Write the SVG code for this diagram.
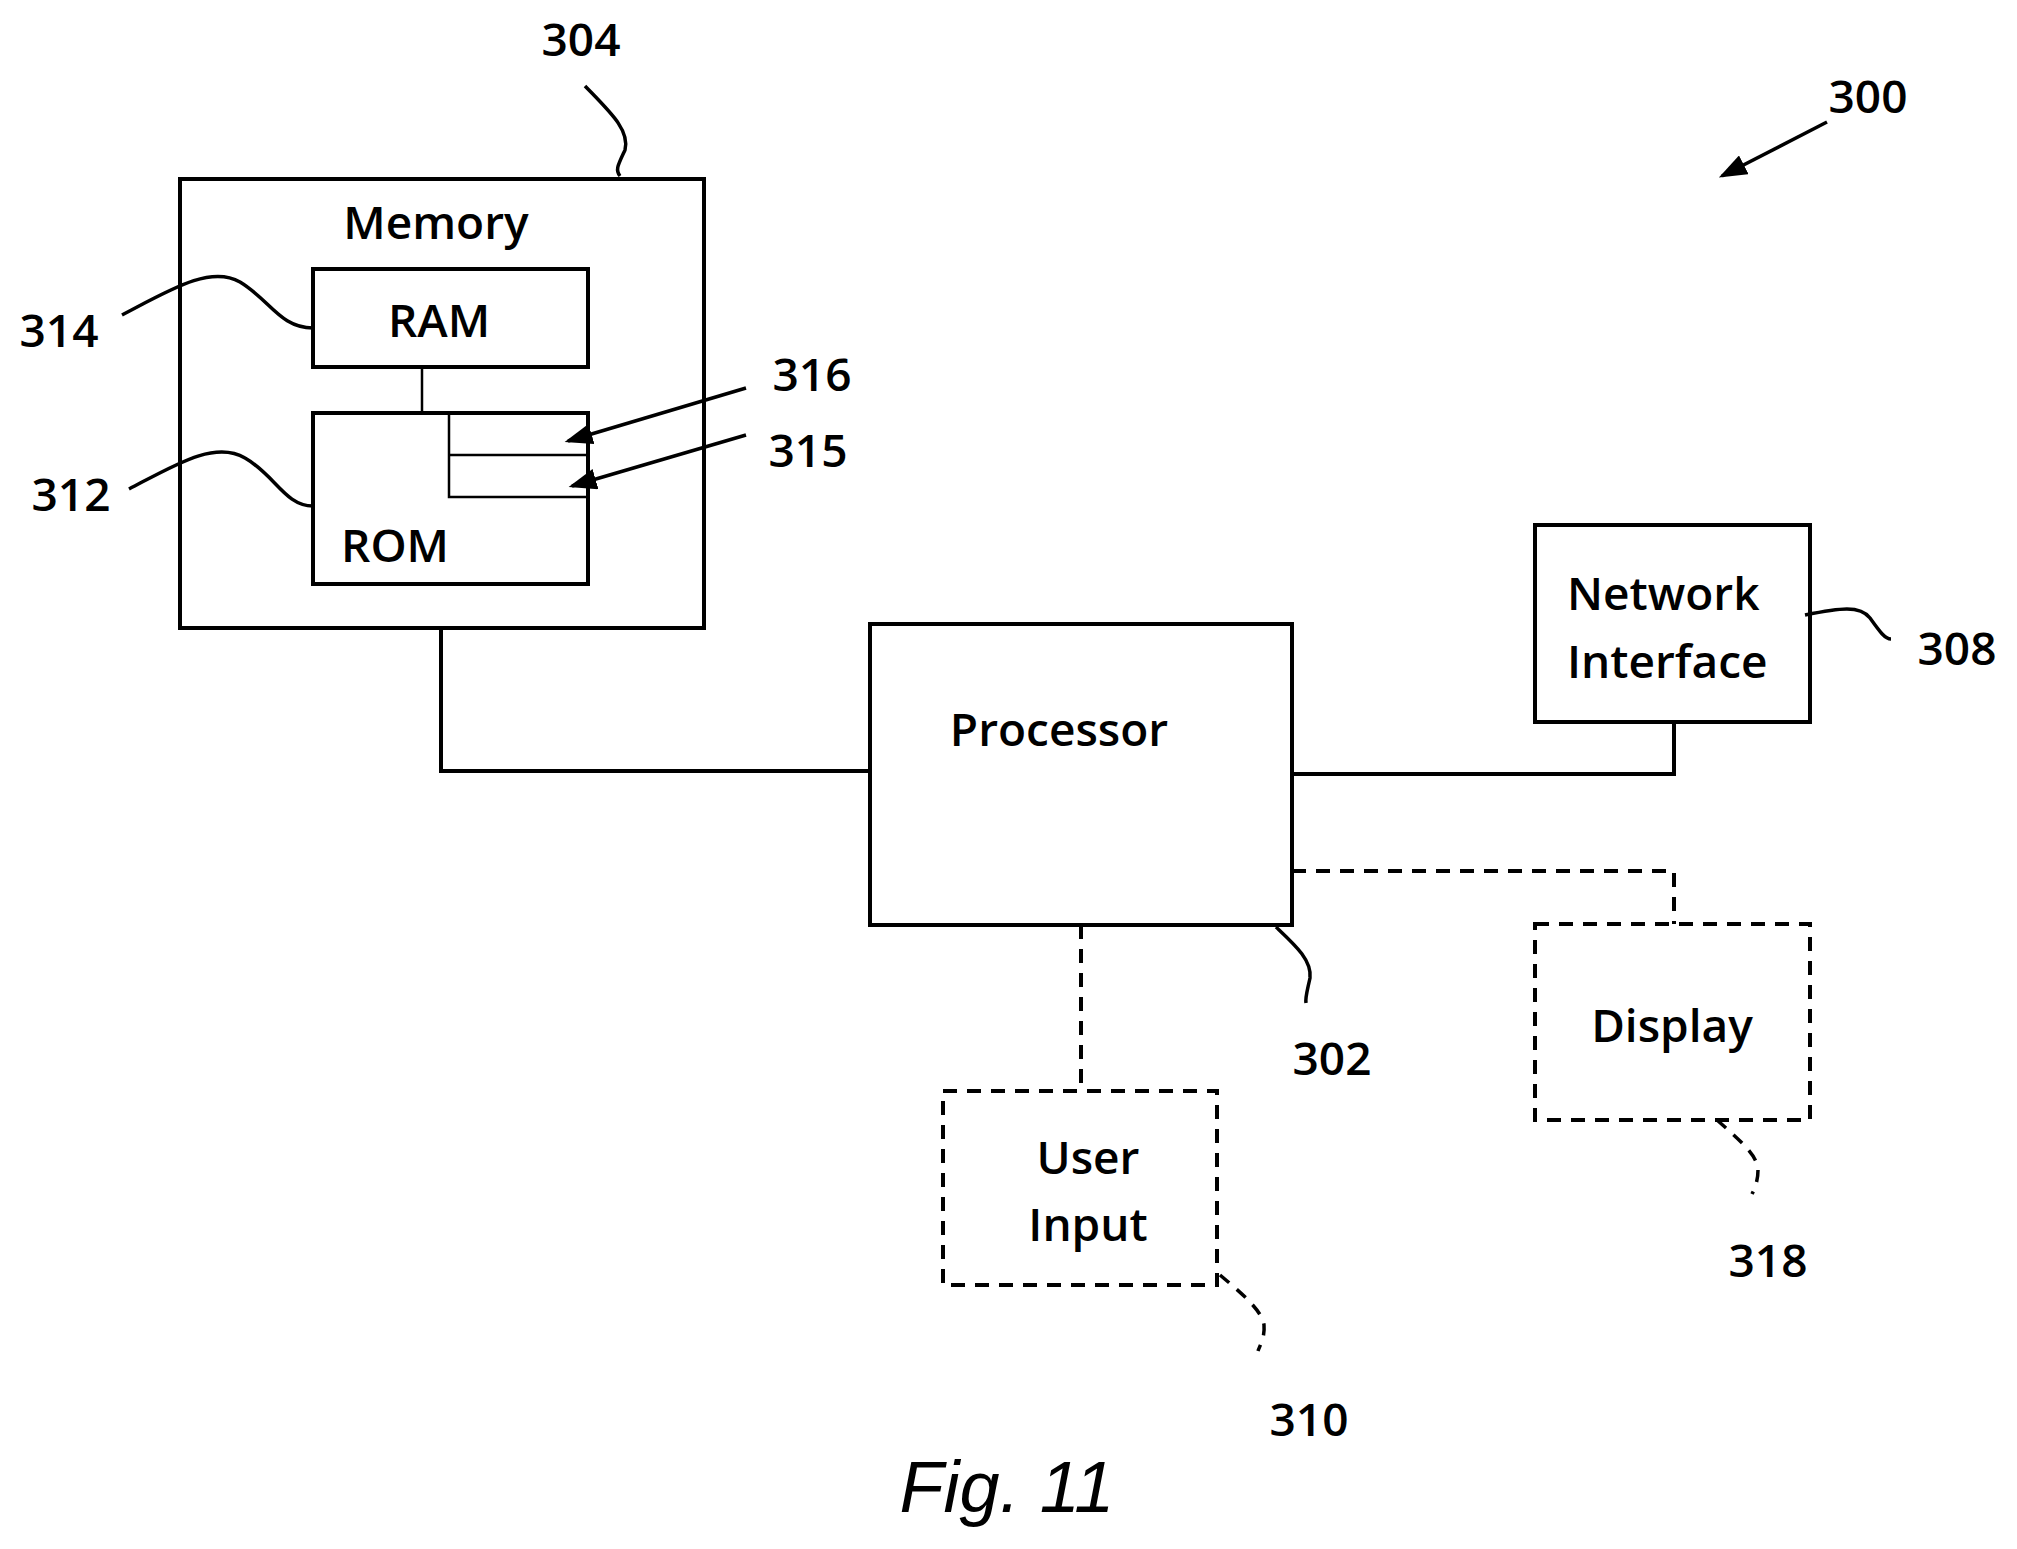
<svg xmlns="http://www.w3.org/2000/svg" width="2017" height="1549" viewBox="0 0 2017 1549">
<style>
.b{fill:none;stroke:#000;stroke-width:4}
.d{fill:none;stroke:#000;stroke-width:4;stroke-dasharray:14 10}
.t{stroke:#000;stroke-width:3.5;fill:none}
text{font-family:"Open Sans","Liberation Sans",sans-serif;font-size:46px;font-weight:600;fill:#000}
.c{text-anchor:middle}
</style>
<defs><marker id="a" markerWidth="8" markerHeight="6" refX="7" refY="3" orient="auto" markerUnits="strokeWidth"><path d="M0,0L8,3L0,6z"/></marker></defs>
<rect width="2017" height="1549" fill="#fff"/>
<g id="memory"><rect class="b" x="180" y="179" width="524" height="449"/><text class="c" x="436" y="239">Memory</text></g>
<g id="ram"><rect class="b" x="313" y="269" width="275" height="98"/><text class="c" x="439" y="337">RAM</text></g>
<g id="rom"><rect class="b" x="313" y="413" width="275" height="171"/><text x="341" y="562">ROM</text>
<path fill="none" stroke="#000" stroke-width="2.5" d="M588,413H449V497H588M449,455H588"/></g>
<g id="processor"><rect class="b" x="870" y="624" width="422" height="301"/><text class="c" x="1059" y="746">Processor</text></g>
<g id="network"><rect class="b" x="1535" y="525" width="275" height="197"/><text x="1567" y="610">Network</text><text x="1567" y="678">Interface</text></g>
<g id="display"><rect class="d" x="1535" y="924" width="275" height="196"/><text class="c" x="1672" y="1042">Display</text></g>
<g id="userinput"><rect class="d" x="943" y="1091" width="274" height="194"/><text class="c" x="1088" y="1174">User</text><text class="c" x="1088" y="1241">Input</text></g>
<g id="connectors">
<path class="b" d="M441,628V771H870"/>
<path class="b" d="M1292,774H1674V722"/>
<path class="d" d="M1292,871H1674V924"/>
<path class="d" d="M1081,925V1091"/>
<path fill="none" stroke="#000" stroke-width="2.5" d="M422,367V413"/>
<path class="t" d="M1827,122L1722,176" marker-end="url(#a)"/>
<path class="t" d="M746,388L568,441" marker-end="url(#a)"/>
<path class="t" d="M746,435L572,486" marker-end="url(#a)"/>
<path class="t" d="M585,86C610,112 630,130 625,150C618,165 615,170 620,176"/>
<path class="t" d="M122,315C170,290 210,265 240,282C270,300 280,328 313,328"/>
<path class="t" d="M129,489C175,465 215,440 245,458C275,475 285,506 313,506"/>
<path class="t" d="M1805,615C1840,608 1860,605 1870,618C1880,632 1885,639 1891,639"/>
<path class="t" d="M1276,927C1295,945 1312,960 1310,978C1307,992 1305,998 1306,1003"/>
<path class="t" style="stroke-dasharray:12 10" d="M1220,1275C1240,1292 1262,1310 1264,1325C1265,1338 1260,1345 1258,1351"/>
<path class="t" style="stroke-dasharray:12 10" d="M1717,1120C1737,1138 1758,1155 1758,1170C1758,1182 1754,1190 1752,1194"/>
</g>
<g id="labels">
<text class="c" x="581" y="56">304</text>
<text class="c" x="1868" y="113">300</text>
<text class="c" x="59" y="347">314</text>
<text class="c" x="812" y="391">316</text>
<text class="c" x="808" y="467">315</text>
<text class="c" x="71" y="511">312</text>
<text class="c" x="1957" y="665">308</text>
<text class="c" x="1332" y="1075">302</text>
<text class="c" x="1768" y="1277">318</text>
<text class="c" x="1309" y="1436">310</text>
<text class="c" x="1007" y="1512" style="font-family:'Liberation Sans',sans-serif;font-style:italic;font-weight:normal;font-size:72px">Fig. 11</text>
</g>
</svg>
